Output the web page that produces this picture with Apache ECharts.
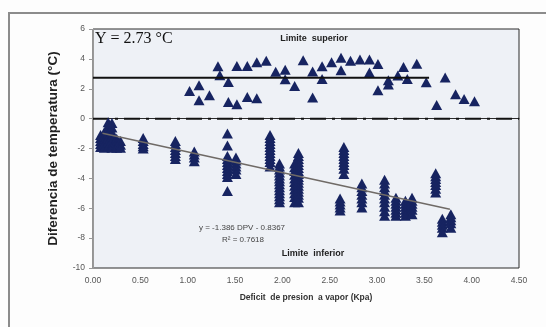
<!DOCTYPE html>
<html>
<head>
<meta charset="utf-8">
<script src="https://cdn.jsdelivr.net/npm/echarts@6/dist/echarts.min.js"></script>
<style>
  html, body { margin: 0; padding: 0; background: #fdfdfd; }
  #chart { width: 546px; height: 327px; }
</style>
</head>
<body>
<div id="chart"></div>
<script>
// Temperature difference vs vapour pressure deficit

const xTicks = [0, 0.5, 1, 1.5, 2, 2.5, 3, 3.5, 4, 4.5];
const yTicks = [-10, -8, -6, -4, -2, 0, 2, 4, 6];

// Upper limit observations [DPV, dT]
const upperPoints = [
  [1.02, 1.85], [1.12, 2.23], [1.12, 1.23], [1.23, 1.56], [1.32, 3.50],
  [1.34, 2.90], [1.43, 2.46], [1.43, 1.12], [1.52, 0.96], [1.52, 3.53],
  [1.63, 3.53], [1.63, 1.45], [1.73, 3.77], [1.73, 1.36], [1.83, 3.88],
  [1.93, 3.13], [2.03, 3.28], [2.03, 2.63], [2.13, 2.19], [2.22, 3.90],
  [2.32, 3.15], [2.32, 1.41], [2.42, 3.50], [2.42, 2.66], [2.52, 3.77],
  [2.62, 4.08], [2.62, 3.24], [2.72, 3.88], [2.82, 3.95], [2.92, 3.95],
  [2.92, 3.08], [3.01, 3.66], [3.01, 1.90], [3.12, 2.57], [3.12, 2.28],
  [3.22, 2.88], [3.28, 3.46], [3.32, 2.66], [3.42, 3.68], [3.52, 2.43],
  [3.63, 0.92], [3.72, 2.75], [3.83, 1.63], [3.92, 1.32], [4.03, 1.16]
];

// Lower limit observations, grouped by DPV column
const lowerColumnX = [
  0.08, 0.12, 0.16, 0.20, 0.25, 0.29,
  0.53, 0.87, 1.07,
  1.42, 1.51,
  1.87, 1.97, 2.13, 2.17,
  2.65, 2.61, 2.84,
  3.08, 3.20, 3.30, 3.37,
  3.62, 3.69, 3.78
];
const lowerColumnY = [
  [-1.1, -1.3, -1.5, -1.7, -1.9],
  [-0.9, -1.2, -1.45, -1.7, -1.95],
  [-0.25, -0.5, -0.75, -1.0, -1.3, -1.6, -1.9],
  [-0.3, -0.6, -0.9, -1.2, -1.5, -1.8, -1.95],
  [-1.35, -1.6, -1.8, -1.95],
  [-1.5, -1.75, -1.95],
  [-1.3, -1.5, -1.7, -1.85, -2.0],
  [-1.5, -1.7, -1.9, -2.1, -2.3, -2.5, -2.7],
  [-2.2, -2.4, -2.6, -2.85],
  [-1.0, -1.8, -2.5, -2.7, -2.9, -3.1, -3.3, -3.5, -3.7, -3.9, -4.85],
  [-2.6, -2.8, -3.0, -3.2, -3.4, -3.7],
  [-1.1, -1.3, -1.5, -1.7, -1.9, -2.1, -2.3, -2.5, -2.7, -2.9, -3.2],
  [-3.0, -3.2, -3.4, -3.6, -3.8, -4.0, -4.2, -4.4, -4.6, -4.8, -5.0, -5.2, -5.4, -5.6],
  [-3.0, -3.25, -3.5, -3.75, -4.0, -4.25, -4.5, -4.75, -5.0, -5.25, -5.6],
  [-2.3, -2.5, -2.7, -2.9, -3.1, -3.3, -3.5, -3.7, -3.9, -4.1, -4.3, -4.5, -4.7, -4.9, -5.1, -5.3, -5.6],
  [-1.9, -2.1, -2.3, -2.5, -2.7, -2.9, -3.1, -3.35, -3.7],
  [-5.35, -5.55, -5.75, -5.95, -6.15],
  [-4.35, -4.6, -4.85, -5.1, -5.35, -5.6, -5.95],
  [-4.1, -4.35, -4.6, -4.85, -5.1, -5.35, -5.6, -5.9, -6.2, -6.5],
  [-5.3, -5.5, -5.7, -5.9, -6.1, -6.3, -6.5],
  [-5.5, -5.7, -5.9, -6.1, -6.3, -6.5],
  [-5.3, -5.5, -5.7, -5.9, -6.1, -6.4],
  [-3.65, -3.85, -4.05, -4.25, -4.45, -4.7, -4.95],
  [-6.7, -6.9, -7.1, -7.3, -7.6],
  [-6.4, -6.6, -6.8, -7.0, -7.3]
];

// Upper limit mean and lower limit regression
const upperMean = 2.73;
const upperMeanRange = [0, 3.55];
const fitSlope = -1.386;
const fitIntercept = -0.8367;
const fitR2 = 0.7618;
const fitRange = [0.1, 3.77];

const lowerPoints = [];
lowerColumnX.forEach((x, i) => lowerColumnY[i].forEach(y => lowerPoints.push([x, y])));

const fitLine = fitRange.map(x => [x, fitSlope * x + fitIntercept]);
const meanLine = upperMeanRange.map(x => [x, upperMean]);

const markColor = '#172461';
const tri = 'triangle';
const triSize = [11, 10];

const chart = echarts.init(document.getElementById('chart'), null, { renderer: 'canvas' });

chart.setOption({
  backgroundColor: '#fdfdfd',
  animation: false,
  grid: {
    left: 93, right: 27, top: 29, bottom: 59,
    show: true, backgroundColor: '#eef1f6', borderColor: '#2a2a2a', borderWidth: 1
  },
  xAxis: {
    type: 'value', min: 0, max: 4.5, interval: 0.5,
    name: 'Deficit  de presion  a vapor (Kpa)',
    nameLocation: 'middle', nameGap: 25,
    nameTextStyle: { fontFamily: 'Liberation Sans', fontSize: 8.5, fontWeight: 'bold', color: '#333' },
    axisLine: { lineStyle: { color: '#2a2a2a', width: 1 } },
    axisTick: { show: false },
    splitLine: { show: false },
    axisLabel: {
      fontFamily: 'Liberation Sans', fontSize: 8.5, color: '#555', margin: 8,
      formatter: v => v.toFixed(2)
    }
  },
  yAxis: {
    type: 'value', min: yTicks[0], max: yTicks[yTicks.length - 1], interval: 2,
    name: 'Diferencia de temperatura (°C)',
    nameLocation: 'middle', nameGap: 33,
    nameTextStyle: { fontFamily: 'Liberation Sans', fontSize: 13.5, fontWeight: 'bold', color: '#222' },
    axisLine: { show: true, lineStyle: { color: '#999', width: 1 } },
    axisTick: { show: true, length: 4, lineStyle: { color: '#999' } },
    splitLine: { show: false },
    axisLabel: { fontFamily: 'Liberation Sans', fontSize: 8.5, color: '#555', margin: 8 }
  },
  graphic: [
    { type: 'rect', shape: { x: 9, y: 13, width: 560, height: 340 },
      style: { fill: 'none', stroke: '#8c8c8c', lineWidth: 2 }, z: -1 },
    { type: 'text', left: 95, top: 31,
      style: { text: 'Y = ' + upperMean.toFixed(2) + ' °C', font: '16px "Liberation Serif"', fill: '#111' } },
    { type: 'text', x: 314, y: 39,
      style: { text: 'Limite  superior', font: 'bold 9px "Liberation Sans"', fill: '#222', align: 'center', verticalAlign: 'middle' } },
    { type: 'text', x: 313, y: 254,
      style: { text: 'Limite  inferior', font: 'bold 9px "Liberation Sans"', fill: '#222', align: 'center', verticalAlign: 'middle' } },
    { type: 'text', x: 242, y: 228,
      style: { text: 'y = ' + fitSlope + ' DPV - ' + Math.abs(fitIntercept), font: '8px "Liberation Sans"', fill: '#444', align: 'center', verticalAlign: 'middle' } },
    { type: 'text', x: 243, y: 239.5,
      style: { text: 'R² = ' + fitR2, font: '8px "Liberation Sans"', fill: '#444', align: 'center', verticalAlign: 'middle' } }
  ],
  series: [
    {
      type: 'line', data: [[0, 0], [4.5, 0]], symbol: 'none', silent: true,
      lineStyle: { color: '#111', width: 2, type: [16, 6, 3, 6], cap: 'butt' }, z: 2
    },
    {
      type: 'scatter', data: upperPoints, symbol: tri, symbolSize: triSize,
      itemStyle: { color: markColor, opacity: 1 }, z: 3
    },
    {
      type: 'scatter', data: lowerPoints, symbol: tri, symbolSize: triSize,
      itemStyle: { color: markColor, opacity: 1 }, z: 3
    },
    {
      type: 'line', data: meanLine, symbol: 'none', silent: true,
      lineStyle: { color: '#111', width: 2 }, z: 4
    },
    {
      type: 'line', data: fitLine, symbol: 'none', silent: true,
      lineStyle: { color: '#6f6a66', width: 1.5 }, z: 4
    }
  ]
});
</script>
</body>
</html>
